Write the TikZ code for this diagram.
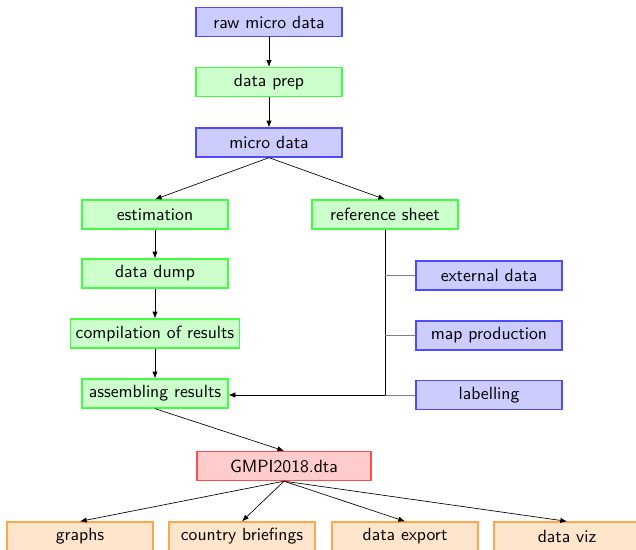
\documentclass[tikz,border=0pt]{standalone}
\usetikzlibrary{arrows.meta}
\begin{document}
\begin{tikzpicture}[x=0.6pt,y=-0.6pt, font=\sffamily\fontsize{10.6}{12.7}\selectfont,
  box/.style={draw, thick, minimum width=87.6pt, minimum height=17.4pt, inner sep=3pt},
  bluebox/.style={box, draw=blue!70, fill=blue!20},
  greenbox/.style={box, draw=green!75, fill=green!20},
  redbox/.style={box, draw=red!70, fill=red!20, minimum width=104.4pt},
  orangebox/.style={box, draw=orange!70, fill=orange!20},
  arr/.style={-{Latex[length=4pt,width=3.2pt]}},
  side/.style={draw=gray}]
\clip (0,0) rectangle (636,550);
\node[bluebox] (raw) at (269,22) {raw micro data};
\node[greenbox] (prep) at (269,82) {data prep};
\node[bluebox] (micro) at (269,142.5) {micro data};
\node[greenbox] (est) at (155,214.5) {estimation};
\node[greenbox] (ref) at (385,214.5) {reference sheet};
\node[greenbox] (dump) at (155,273.5) {data dump};
\node[greenbox] (comp) at (155,333.5) {compilation of results};
\node[greenbox] (assem) at (155,393.5) {assembling results};
\node[bluebox] (ext) at (489,275.5) {external data};
\node[bluebox] (map) at (489,335.5) {map production};
\node[bluebox] (lab) at (489,395) {labelling};
\node[redbox] (gmpi) at (284,466) {GMPI2018.dta};
\node[orangebox] (graphs) at (80,536.5) {graphs};
\node[orangebox] (brief) at (242,536.5) {country briefings};
\node[orangebox] (export) at (405,536.5) {data export};
\node[orangebox] (viz) at (567,536.5) {data viz};
\draw[arr] (raw) -- (prep);
\draw[arr] (prep) -- (micro);
\draw[arr] (micro.south) -- (est.north);
\draw[arr] (micro.south) -- (ref.north);
\draw[arr] (est) -- (dump);
\draw[arr] (dump) -- (comp);
\draw[arr] (comp) -- (assem);
\coordinate (j) at (ref.south |- lab.west);
\draw (ref.south) -- (j);
\draw[arr] (j) -- (assem.east |- j);
\draw[side] (lab.west) -- (j);
\draw[side] (ext.west) -- (ref.south |- ext.west);
\draw[side] (map.west) -- (ref.south |- map.west);
\draw[arr] (assem.south) -- (gmpi.north);
\draw[arr] (gmpi.south) -- (graphs.north);
\draw[arr] (gmpi.south) -- (brief.north);
\draw[arr] (gmpi.south) -- (export.north);
\draw[arr] (gmpi.south) -- (viz.north);
\end{tikzpicture}
\end{document}
